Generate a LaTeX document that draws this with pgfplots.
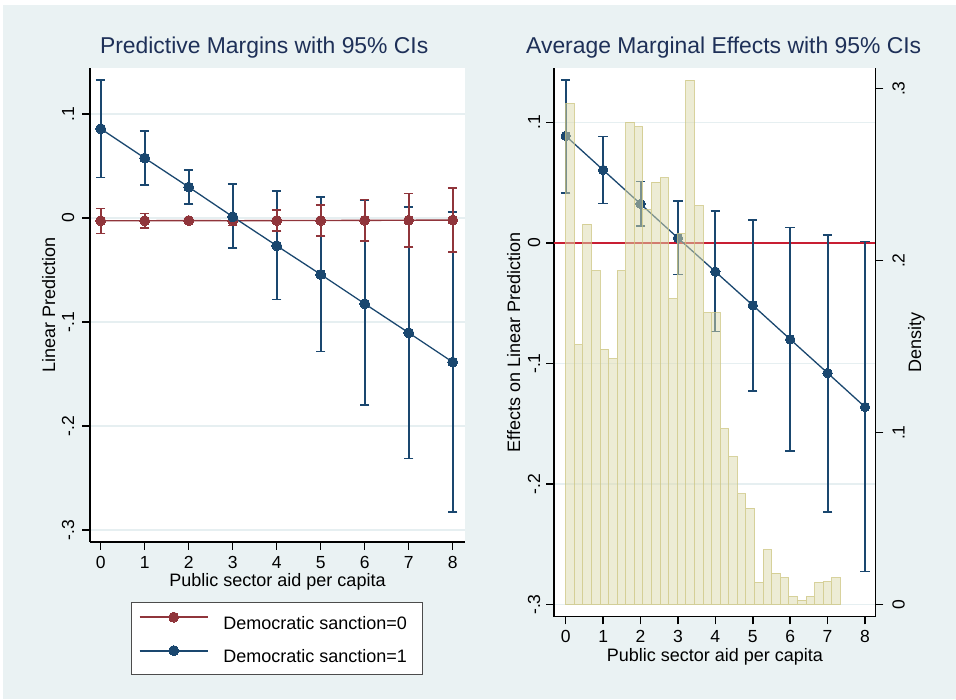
\documentclass[border=0pt]{standalone}
\usepackage{fontspec}
\setmainfont{Liberation Sans}
\usepackage{pgfplots}
\pgfplotsset{compat=1.18}
\usepackage{pgfplotstable}
\definecolor{bgc}{HTML}{EAF2F3}
\definecolor{gridc}{HTML}{E6EFF1}
\definecolor{navyc}{HTML}{1A476F}
\definecolor{maroonc}{HTML}{90353B}
\definecolor{crimsonc}{RGB}{200,30,50}
\definecolor{titlec}{RGB}{30,48,88}
\definecolor{histfill}{RGB}{221,219,173}
\definecolor{histedge}{RGB}{205,198,130}

\pgfplotstableread{
x y lo hi
0 -0.0026 -0.0147 0.0093
1 -0.0026 -0.0096 0.0045
2 -0.0024 -0.0045 -0.0003
3 -0.0026 -0.0070 0.0018
4 -0.0024 -0.0122 0.0077
5 -0.0024 -0.0173 0.0128
6 -0.0022 -0.0221 0.0180
7 -0.0021 -0.0276 0.0237
8 -0.0019 -0.0327 0.0288
}\redl
\pgfplotstableread{
x y lo hi
0 0.0859 0.0391 0.1327
1 0.0577 0.0317 0.0839
2 0.0298 0.0135 0.0462
3 0.0013 -0.0288 0.0327
4 -0.0266 -0.0782 0.0260
5 -0.0542 -0.1285 0.0205
6 -0.0824 -0.1798 0.0167
7 -0.1103 -0.2311 0.0109
8 -0.1385 -0.2827 0.0061
}\bluel
\pgfplotstableread{
x y lo hi
0 0.0888 0.0417 0.1353
1 0.0606 0.0329 0.0882
2 0.0324 0.0139 0.0509
3 0.0041 -0.0260 0.0346
4 -0.0238 -0.0736 0.0263
5 -0.0517 -0.1228 0.0191
6 -0.0799 -0.1726 0.0130
7 -0.1079 -0.2230 0.0066
8 -0.1361 -0.2726 0.0011
}\amer
\pgfplotstableread{
x d
0.0000 0.2915
0.2294 0.1510
0.4588 0.2212
0.6882 0.1942
0.9176 0.1485
1.1470 0.1430
1.3764 0.1942
1.6058 0.2806
1.8352 0.2779
2.0646 0.2295
2.2940 0.2456
2.5234 0.2481
2.7528 0.1779
2.9822 0.2159
3.2116 0.3049
3.4410 0.2320
3.6704 0.1698
3.8998 0.1698
4.1292 0.1023
4.3586 0.0860
4.5880 0.0644
4.8174 0.0562
5.0468 0.0130
5.2762 0.0320
5.5056 0.0184
5.7350 0.0157
5.9644 0.0049
6.1938 0.0026
6.4232 0.0049
6.6526 0.0130
6.8820 0.0134
7.1114 0.0157
7.3408 0.0157
}\hist

\pgfplotsset{
  stbase/.style={
    scale only axis, anchor=south west,
    axis x line*=bottom,
    axis line style={line width=1.5pt, black, -},
    tick align=outside, major tick length=7.7pt,
    tick style={line width=1.5pt, black},
    tick label style={font=\fontsize{17.5}{21}\selectfont, black},
    label style={font=\fontsize{18}{21}\selectfont, black},
    title style={font=\fontsize{22.9}{26}\selectfont, color=titlec, anchor=base},
    axis background/.style={fill=white},
    grid style={line width=1.2pt, gridc},
    clip=true,
  },
  errblue/.style={only marks, mark=none, forget plot,
    error bars/.cd, y dir=both, y explicit, error mark=|,
    error bar style={line width=2pt, navyc},
    error mark options={line width=1.6pt, mark size=4.7pt, navyc}},
  errred/.style={only marks, mark=none, forget plot,
    error bars/.cd, y dir=both, y explicit, error mark=|,
    error bar style={line width=2pt, maroonc},
    error mark options={line width=1.6pt, mark size=4.7pt, maroonc}},
}

\begin{document}
\begin{tikzpicture}[x=1pt,y=1pt]
\useasboundingbox (0,0) rectangle (956,699);
\fill[white] (0,0) rectangle (956,699);
\fill[bgc] (3,0) rectangle (956,694);

% ---------------- Left panel ----------------
\begin{axis}[stbase,
  at={(90pt,157pt)}, width=375pt, height=473.7pt,
  axis y line*=left,
  xmin=-0.243, xmax=8.28, ymin=-0.3115, ymax=0.144,
  xtick={0,1,2,3,4,5,6,7,8}, xticklabels={0,1,2,3,4,5,6,7,8},
  ytick={-0.3,-0.2,-0.1,0,0.1}, yticklabels={-.3,-.2,-.1,0,.1},
  xticklabel style={anchor=base}, xticklabel shift=18.6pt,
  yticklabel style={rotate=90, anchor=base}, yticklabel shift=8.3pt,
  ymajorgrids,
  title={Predictive Margins with 95\% CIs},
  title style={at={(axis description cs:0.4645,1.019)}},
  xlabel={Public sector aid per capita},
  xlabel style={at={(axis description cs:0.5,-0.0944)}, anchor=base},
  ylabel={Linear Prediction},
  ylabel style={at={(axis description cs:-0.0933,0.5)}, rotate=0, anchor=base},
  legend style={at={(axis description cs:0.4987,-0.126)}, anchor=north,
    draw=black!70, line width=0.9pt, fill=white,
    font=\fontsize{18}{21}\selectfont,
    inner xsep=7.6pt, inner ysep=10pt, row sep=14.8pt,
    nodes={inner sep=0pt},
    /tikz/every odd column/.append style={column sep=14.6pt}},
  legend cell align=left,
  legend image code/.code={\draw[mark repeat=2,mark phase=2,#1,line width=2pt] plot coordinates {(0pt,6.4pt) (34pt,6.4pt) (68pt,6.4pt)};},
]
\addplot[errblue] table[x=x, y=y, y error plus expr=\thisrow{hi}-\thisrow{y}, y error minus expr=\thisrow{y}-\thisrow{lo}] {\bluel};
\addplot[errred] table[x=x, y=y, y error plus expr=\thisrow{hi}-\thisrow{y}, y error minus expr=\thisrow{y}-\thisrow{lo}] {\redl};
\addplot[maroonc, line width=1.4pt, mark=*, mark size=5pt, mark options={solid, fill=maroonc, draw=maroonc, line width=0pt}] table[x=x, y=y] {\redl};
\addlegendentry{\makebox[192pt][l]{Democratic sanction=0}}
\addplot[navyc, line width=1.3pt, mark=*, mark size=5pt, mark options={solid, fill=navyc, draw=navyc, line width=0pt}] table[x=x, y=y] {\bluel};
\addlegendentry{\makebox[192pt][l]{Democratic sanction=1}}
\end{axis}

% ---------------- Right panel ----------------
\begin{axis}[stbase,
  at={(554pt,82.3pt)}, width=321.7pt, height=548.7pt,
  axis y line*=left,
  xmin=-0.313, xmax=8.286, ymin=-0.3101, ymax=0.1452,
  xtick={0,1,2,3,4,5,6,7,8}, xticklabels={0,1,2,3,4,5,6,7,8},
  ytick={-0.3,-0.2,-0.1,0,0.1}, yticklabels={-.3,-.2,-.1,0,.1},
  xticklabel style={anchor=base}, xticklabel shift=18.3pt,
  yticklabel style={rotate=90, anchor=base}, yticklabel shift=6.3pt,
  ymajorgrids,
  title={Average Marginal Effects with 95\% CIs},
  title style={at={(axis description cs:0.5275,1.0159)}},
  xlabel={Public sector aid per capita},
  xlabel style={at={(axis description cs:0.5,-0.0813)}, anchor=base},
  ylabel={Effects on Linear Prediction},
  ylabel style={at={(axis description cs:-0.1057,0.5)}, rotate=0, anchor=base},
]
\addplot[crimsonc, line width=2pt, forget plot] coordinates {(-0.313,0) (8.286,0)};
\addplot[errblue] table[x=x, y=y, y error plus expr=\thisrow{hi}-\thisrow{y}, y error minus expr=\thisrow{y}-\thisrow{lo}] {\amer};
\addplot[navyc, line width=1.3pt, mark=*, mark size=4.7pt, mark options={solid, fill=navyc, draw=navyc, line width=0pt}] table[x=x, y=y] {\amer};
\end{axis}

\begin{axis}[stbase,
  at={(554pt,82.3pt)}, width=321.7pt, height=548.7pt,
  axis x line=none, axis y line*=right,
  axis background/.style={},
  xmin=-0.313, xmax=8.286, ymin=-0.00698, ymax=0.312,
  ytick={0,0.1,0.2,0.3}, yticklabels={0,.1,.2,.3},
  yticklabel style={rotate=90, anchor=base}, yticklabel shift=21.1pt,
  ylabel={Density},
  ylabel style={at={(axis description cs:1.1408,0.5)}, rotate=0, anchor=base},
]
\addplot[ybar interval, fill=histfill, fill opacity=0.5, draw=histedge, draw opacity=0.75, line width=1pt] table[x=x, y=d] {\hist};
\end{axis}
\end{tikzpicture}
\end{document}
